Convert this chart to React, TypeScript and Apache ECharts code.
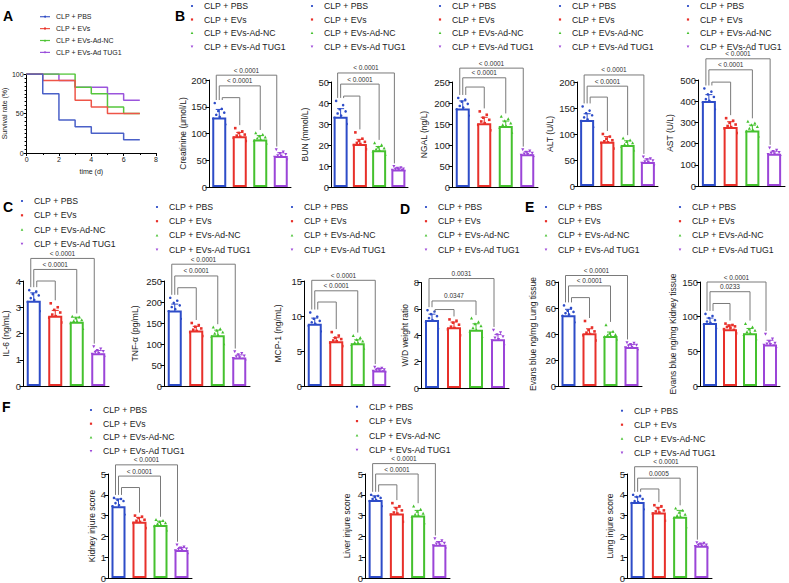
import React, { useEffect, useRef } from "react";
import * as echarts from "echarts";

const FONT = "'Liberation Sans', Arial, Helvetica, sans-serif";
const GROUPS = ["CLP + PBS", "CLP + EVs", "CLP + EVs-Ad-NC", "CLP + EVs-Ad TUG1"];
const COLORS = ["#2d4cc8", "#e8302a", "#45c12e", "#9b45d8"];
const LINE_COLORS = ["#4a60c8", "#ee5548", "#56c63c", "#9b55dc"];

// ---- Panel A: survival (Kaplan-Meier steps) ----
const SURV_PBS = [[0, 100], [1, 75], [2, 41.7], [3, 33.3], [4, 25], [6, 16.7], [7, 16.7]];
const SURV_EVS = [[0, 100], [1, 91.7], [3, 66.7], [4, 58.3], [5, 50], [7, 50]];
const SURV_NC = [[0, 100], [3, 83.3], [4, 75], [5, 58.3], [6, 50], [7, 50]];
const SURV_TUG1 = [[0, 100], [2, 91.7], [3, 83.3], [5, 75], [6, 66.7], [7, 66.7]];
const SURV = [SURV_PBS, SURV_EVS, SURV_NC, SURV_TUG1];

// ---- Panel B ----
const CREAT_MEAN = [130, 95, 89, 58];
const CREAT_SD = [15, 7, 7, 6];
const CREAT_DOTS = [
  [157, 146, 142, 139, 135, 131, 128, 124, 121, 117, 113, 110],
  [110, 104, 101, 98, 96, 94, 92, 90, 88, 86, 84],
  [101, 98, 95, 93, 91, 89, 87, 86, 84, 82, 80],
  [70, 66, 63, 61, 59, 58, 56, 55, 53, 51, 49],
];
const CREAT_SIG = [209, 189, 167];
const CREAT_P = ["< 0.0001", "< 0.0001", ""];

const BUN_MEAN = [33.5, 20.5, 17.5, 8.3];
const BUN_SD = [3.8, 2.2, 1.8, 0.8];
const BUN_DOTS = [
  [41, 39, 37, 36, 35, 34, 33, 32, 31, 30, 29.5, 28.5],
  [26, 23, 22, 21.5, 21, 20.5, 20, 19.5, 19, 18, 17.5],
  [21, 20, 19, 18.5, 18, 17.5, 17, 16.5, 16, 15.5, 15],
  [9.8, 9.3, 9, 8.7, 8.5, 8.3, 8.1, 7.9, 7.6, 7.3, 7],
];
const BUN_SIG = [54.3, 49, 43.3];
const BUN_P = ["< 0.0001", "< 0.0001", ""];

const NGAL_MEAN = [187, 152, 145, 78];
const NGAL_SD = [18, 14, 12, 6];
const NGAL_DOTS = [
  [212, 208, 203, 198, 193, 189, 185, 180, 176, 170, 162, 150],
  [180, 172, 165, 160, 156, 152, 148, 145, 140, 135, 130, 124],
  [168, 162, 157, 152, 148, 145, 142, 138, 135, 130, 124],
  [89, 86, 83, 81, 79, 78, 76, 75, 73, 71, 68],
];
const NGAL_SIG = [283, 260, 238];
const NGAL_P = ["< 0.0001", "< 0.0001", ""];

const ALT_MEAN = [127, 85, 79, 46];
const ALT_SD = [12, 10, 8, 6];
const ALT_DOTS = [
  [153, 145, 140, 136, 132, 128, 125, 121, 117, 113, 109, 105],
  [100, 95, 91, 88, 86, 84, 83, 81, 78, 72, 66],
  [92, 88, 85, 83, 80, 78, 76, 74, 72, 69, 65],
  [56, 53, 51, 49, 47, 46, 44, 43, 41, 39, 36],
];
const ALT_SIG = [213.5, 192, 171];
const ALT_P = ["< 0.0001", "< 0.0001", ""];

const AST_MEAN = [401, 278, 262, 152];
const AST_SD = [30, 25, 25, 12];
const AST_DOTS = [
  [460, 445, 432, 420, 410, 402, 395, 386, 375, 362, 348, 335],
  [320, 308, 298, 290, 283, 278, 272, 265, 258, 250, 240],
  [305, 296, 288, 280, 272, 265, 258, 250, 242, 235, 226],
  [180, 170, 164, 159, 155, 152, 149, 146, 143, 140, 136],
];
const AST_SIG = [600, 548, 490];
const AST_P = ["< 0.0001", "< 0.0001", ""];

// ---- Panel C ----
const IL6_MEAN = [3.25, 2.68, 2.45, 1.25];
const IL6_SD = [0.3, 0.2, 0.17, 0.1];
const IL6_DOTS = [
  [3.65, 3.6, 3.5, 3.45, 3.35, 3.28, 3.2, 3.1, 3.0, 2.85, 2.7, 2.4],
  [3.15, 3.0, 2.9, 2.8, 2.72, 2.66, 2.6, 2.55, 2.5, 2.42, 2.3],
  [2.65, 2.62, 2.58, 2.52, 2.48, 2.45, 2.4, 2.35, 2.25, 2.18, 2.1],
  [1.5, 1.42, 1.36, 1.32, 1.28, 1.25, 1.22, 1.18, 1.14, 1.1, 1.05],
];
const IL6_SIG = [4.86, 4.44, 4.0];
const IL6_P = ["< 0.0001", "< 0.0001", ""];

const TNF_MEAN = [180, 132, 121, 68];
const TNF_SD = [15, 10, 12, 6];
const TNF_DOTS = [
  [210, 203, 198, 192, 188, 183, 178, 172, 166, 160, 155, 150],
  [150, 145, 141, 137, 134, 131, 128, 125, 122, 119, 115],
  [140, 136, 132, 128, 125, 121, 118, 114, 108, 100, 90],
  [82, 78, 75, 72, 70, 68, 66, 64, 62, 60, 58],
];
const TNF_SIG = [290, 262, 234];
const TNF_P = ["< 0.0001", "< 0.0001", ""];

const MCP_MEAN = [8.9, 6.4, 6.1, 2.2];
const MCP_SD = [0.8, 0.5, 0.5, 0.3];
const MCP_DOTS = [
  [10.5, 9.9, 9.6, 9.3, 9.1, 8.9, 8.6, 8.4, 8.1, 7.8, 7.5, 7.2],
  [7.7, 7.2, 6.9, 6.7, 6.5, 6.4, 6.2, 6.1, 5.9, 5.7, 5.5],
  [7.2, 6.9, 6.6, 6.4, 6.2, 6.1, 5.9, 5.7, 5.5, 5.35, 5.2],
  [2.7, 2.55, 2.45, 2.35, 2.28, 2.2, 2.12, 2.05, 1.98, 1.9, 1.8],
];
const MCP_SIG = [15.1, 13.6, 12.0];
const MCP_P = ["< 0.0001", "< 0.0001", ""];

// ---- Panel D ----
const WD_MEAN = [5.15, 4.6, 4.42, 3.7];
const WD_SD = [0.45, 0.4, 0.45, 0.35];
const WD_DOTS = [
  [5.9, 5.8, 5.6, 5.45, 5.3, 5.15, 5.0, 4.85, 4.7, 4.5, 4.35],
  [5.2, 5.1, 4.95, 4.8, 4.65, 4.55, 4.45, 4.3, 4.15, 4.0, 3.9],
  [5.3, 5.0, 4.85, 4.7, 4.55, 4.4, 4.3, 4.15, 4.0, 3.9, 3.8],
  [4.4, 4.2, 4.05, 3.9, 3.8, 3.7, 3.6, 3.5, 3.35, 3.2, 3.0],
];
const WD_SIG = [8.3, 6.6, 5.95];
const WD_P = ["0.0031", "0.0347", ""];

// ---- Panel E ----
const EBL_MEAN = [54.5, 40.5, 38.5, 30];
const EBL_SD = [4.5, 3.5, 3, 2];
const EBL_DOTS = [
  [62, 60, 58, 57, 56, 55, 54, 52, 51, 49, 47],
  [50, 45, 43, 42, 41, 40, 39, 38, 37, 35, 34],
  [47, 42, 40.5, 39.5, 39, 38.5, 38, 37, 36.5, 36, 35],
  [33.5, 33, 32, 31.5, 31, 30, 29.5, 29, 28.5, 27.5, 27],
];
const EBL_SIG = [85, 77, 68];
const EBL_P = ["< 0.0001", "< 0.0001", ""];

const EBK_MEAN = [91, 82, 76, 60];
const EBK_SD = [7, 6, 7, 6];
const EBK_DOTS = [
  [104, 101, 98, 95, 93, 91, 89, 87, 85, 83, 80],
  [90, 88, 87, 86, 85, 84, 82, 81, 79, 76, 62],
  [90, 85, 82, 80, 78, 76, 74, 72, 70, 68, 65],
  [75, 68, 64, 62, 61, 60, 59, 58, 56, 54, 52],
];
const EBK_SIG = [150, 136, 119];
const EBK_P = ["< 0.0001", "0.0233", ""];

// ---- Panel F ----
const KIS_MEAN = [3.45, 2.7, 2.55, 1.35];
const KIS_SD = [0.35, 0.2, 0.18, 0.12];
const KIS_DOTS = [
  [3.85, 3.8, 3.75, 3.7, 3.6, 3.5, 3.45, 3.35, 3.2, 3.05, 2.55],
  [3.0, 2.95, 2.88, 2.8, 2.75, 2.7, 2.65, 2.6, 2.5, 2.4, 2.3],
  [2.8, 2.75, 2.7, 2.65, 2.6, 2.55, 2.5, 2.45, 2.38, 2.3, 2.2],
  [1.6, 1.5, 1.45, 1.4, 1.38, 1.35, 1.32, 1.28, 1.22, 1.15, 1.1],
];
const KIS_SIG = [5.44, 4.9, 4.35];
const KIS_P = ["< 0.0001", "< 0.0001", ""];

const LIS_MEAN = [3.75, 3.1, 3.0, 1.6];
const LIS_SD = [0.2, 0.3, 0.25, 0.15];
const LIS_DOTS = [
  [4.0, 3.95, 3.9, 3.85, 3.8, 3.75, 3.7, 3.65, 3.55, 3.45, 3.35],
  [3.6, 3.45, 3.35, 3.25, 3.15, 3.1, 3.05, 2.95, 2.85, 2.7, 2.3],
  [3.45, 3.3, 3.2, 3.1, 3.05, 3.0, 2.95, 2.9, 2.8, 2.65, 2.4],
  [1.9, 1.8, 1.72, 1.68, 1.64, 1.6, 1.56, 1.52, 1.48, 1.4, 1.3],
];
const LIS_SIG = [5.5, 5.0, 4.48];
const LIS_P = ["< 0.0001", "< 0.0001", ""];

const LUS_MEAN = [3.65, 3.15, 2.95, 1.55];
const LUS_SD = [0.25, 0.25, 0.3, 0.1];
const LUS_DOTS = [
  [4.0, 3.95, 3.9, 3.8, 3.7, 3.65, 3.6, 3.5, 3.4, 3.3, 3.2],
  [3.5, 3.45, 3.35, 3.25, 3.2, 3.15, 3.1, 3.0, 2.9, 2.75, 2.45],
  [3.35, 3.25, 3.15, 3.05, 3.0, 2.95, 2.9, 2.8, 2.65, 2.45, 2.2],
  [1.7, 1.68, 1.65, 1.6, 1.57, 1.55, 1.52, 1.5, 1.45, 1.4, 1.35],
];
const LUS_SIG = [5.35, 4.8, 4.28];
const LUS_P = ["< 0.0001", "0.0005", ""];

// ---- layout (positions only) ----
const PANELS = [
  { name: "Creatinine (μmol/L)", max: 200, step: 50, mean: CREAT_MEAN, sd: CREAT_SD, dots: CREAT_DOTS, sig: CREAT_SIG, p: CREAT_P, box: [209, 80, 82, 107], gap: 20.5, leg: [192, 6, 13.5] },
  { name: "BUN (mmol/L)", max: 50, step: 10, mean: BUN_MEAN, sd: BUN_SD, dots: BUN_DOTS, sig: BUN_SIG, p: BUN_P, box: [331, 82, 77, 105], gap: 21.5, leg: [312, 6, 13.5] },
  { name: "NGAL (ng/L)", max: 250, step: 50, mean: NGAL_MEAN, sd: NGAL_SD, dots: NGAL_DOTS, sig: NGAL_SIG, p: NGAL_P, box: [452, 82, 86, 105], gap: 24, leg: [440, 6, 13.5] },
  { name: "ALT (U/L)", max: 200, step: 50, mean: ALT_MEAN, sd: ALT_SD, dots: ALT_DOTS, sig: ALT_SIG, p: ALT_P, box: [577, 82, 81, 104], gap: 22.5, leg: [560, 6, 13.5] },
  { name: "AST (U/L)", max: 500, step: 100, mean: AST_MEAN, sd: AST_SD, dots: AST_DOTS, sig: AST_SIG, p: AST_P, box: [698, 80, 87, 106], gap: 23.5, leg: [688, 6, 13.5] },
  { name: "IL-6 (ng/mL)", max: 4, step: 1, mean: IL6_MEAN, sd: IL6_SD, dots: IL6_DOTS, sig: IL6_SIG, p: IL6_P, box: [23, 281, 86, 105], gap: 12.5, leg: [22, 201, 14.3] },
  { name: "TNF-α (pg/mL)", max: 250, step: 50, mean: TNF_MEAN, sd: TNF_SD, dots: TNF_DOTS, sig: TNF_SIG, p: TNF_P, box: [164, 281, 86, 105], gap: 24.5, leg: [157, 207, 14.2] },
  { name: "MCP-1 (ng/mL)", max: 15, step: 5, mean: MCP_MEAN, sd: MCP_SD, dots: MCP_DOTS, sig: MCP_SIG, p: MCP_P, box: [304, 281, 86, 105], gap: 21.5, leg: [292, 207, 14.2] },
  { name: "W/D weight ratio", max: 8, step: 2, mean: WD_MEAN, sd: WD_SD, dots: WD_DOTS, sig: WD_SIG, p: WD_P, box: [421, 282.5, 88, 105.5], gap: 11.5, leg: [426, 207, 14.2] },
  { name: "Evans blue ng/mg Lung tissue", max: 80, step: 20, mean: EBL_MEAN, sd: EBL_SD, dots: EBL_DOTS, sig: EBL_SIG, p: EBL_P, box: [558, 282, 84, 104], gap: 20.5, leg: [546, 207, 14.2] },
  { name: "Evans blue ng/mg Kidney tissue", max: 150, step: 50, mean: EBK_MEAN, sd: EBK_SD, dots: EBK_DOTS, sig: EBK_SIG, p: EBK_P, box: [700, 282, 80, 104], gap: 22.5, leg: [680, 207, 14.2] },
  { name: "Kidney injure score", max: 5, step: 1, mean: KIS_MEAN, sd: KIS_SD, dots: KIS_DOTS, sig: KIS_SIG, p: KIS_P, box: [108, 474, 84, 104], gap: 11.5, leg: [91, 410, 13.7] },
  { name: "Liver injure score", max: 5, step: 1, mean: LIS_MEAN, sd: LIS_SD, dots: LIS_DOTS, sig: LIS_SIG, p: LIS_P, box: [365, 474, 85, 104], gap: 13.5, leg: [357, 406.7, 14.4] },
  { name: "Lung injure score", max: 5, step: 1, mean: LUS_MEAN, sd: LUS_SD, dots: LUS_DOTS, sig: LUS_SIG, p: LUS_P, box: [627, 474, 85, 104], gap: 12.5, leg: [622, 410.7, 14] },
];

const LETTERS = [
  ["A", 3, 16], ["B", 175, 16], ["C", 3, 207], ["D", 400, 209], ["E", 525, 207], ["F", 2, 407],
];

const JITTER = [-4.5, 2.5, -1, 5, -3, 0.5, -6, 4, -2, 6, 1, -5];
const LEFT_LEG = [-3, 0, 3];
const RIGHT_LEG = [-4, 0, 0];

function marker(i: number, x: number, y: number, s: number) {
  const fill = COLORS[i];
  if (i === 0) return { type: "circle", shape: { cx: x, cy: y, r: s }, style: { fill } };
  if (i === 1) return { type: "rect", shape: { x: x - s, y: y - s, width: 2 * s, height: 2 * s }, style: { fill } };
  if (i === 2)
    return { type: "polygon", shape: { points: [[x, y - s * 1.3], [x - s * 1.2, y + s], [x + s * 1.2, y + s]] }, style: { fill } };
  return { type: "polygon", shape: { points: [[x, y + s * 1.3], [x - s * 1.2, y - s], [x + s * 1.2, y - s]] }, style: { fill } };
}

function buildOption() {
  const grid: any[] = [];
  const xAxis: any[] = [];
  const yAxis: any[] = [];
  const series: any[] = [];
  const elements: any[] = [];
  const txt = { color: "#222", fontFamily: FONT };

  // Panel A
  grid.push({ left: 25, top: 74, width: 131, height: 79 });
  xAxis.push({
    type: "value", gridIndex: 0, min: 0, max: 8, interval: 2,
    axisLine: { lineStyle: { color: "#000", width: 1 } },
    axisTick: { length: 3, lineStyle: { color: "#000" } },
    minorTick: { show: true, splitNumber: 2, length: 2, lineStyle: { color: "#000" } },
    axisLabel: { fontSize: 7, margin: 3, ...txt },
    splitLine: { show: false },
    name: "time (d)", nameLocation: "middle", nameGap: 15, nameTextStyle: { fontSize: 7, ...txt },
  });
  yAxis.push({
    type: "value", gridIndex: 0, min: 0, max: 100, interval: 50,
    axisLine: { show: true, lineStyle: { color: "#000", width: 1 } },
    axisTick: { show: true, length: 3, lineStyle: { color: "#000" } },
    minorTick: { show: true, splitNumber: 10, length: 2, lineStyle: { color: "#000" } },
    axisLabel: { fontSize: 7, margin: 3, ...txt },
    splitLine: { show: false },
    name: "Survival rate (%)", nameLocation: "middle", nameGap: 15.5, nameTextStyle: { fontSize: 7, ...txt },
  });
  SURV.forEach((d, i) => {
    series.push({
      type: "line", name: GROUPS[i], xAxisIndex: 0, yAxisIndex: 0, step: "end", data: d,
      symbol: "none", lineStyle: { color: LINE_COLORS[i], width: 1.5 }, itemStyle: { color: LINE_COLORS[i] },
      silent: true, z: 10 - i,
    });
  });
  GROUPS.forEach((g, i) => {
    const y = 16.7 + i * 11.9;
    elements.push({ type: "line", shape: { x1: 40, y1: y, x2: 50, y2: y }, style: { stroke: LINE_COLORS[i], lineWidth: 1.2 } });
    elements.push(marker(i, 45, y, 1));
    elements.push({
      type: "text", x: 56, y,
      style: { text: g, fontSize: 7, fill: "#222", fontFamily: FONT, verticalAlign: "middle", textVerticalAlign: "middle" },
    });
  });

  PANELS.forEach((p, k) => {
    const gi = k + 1;
    const [left, top, width, height] = p.box;
    grid.push({ left, top, width, height });
    xAxis.push({
      type: "category", gridIndex: gi, data: GROUPS,
      axisLine: { lineStyle: { color: "#000", width: 1 } },
      axisTick: { show: false }, axisLabel: { show: false },
    });
    yAxis.push({
      type: "value", gridIndex: gi, min: 0, max: p.max, interval: p.step,
      axisLine: { show: true, lineStyle: { color: "#000", width: 1 } },
      axisTick: { show: true, length: 3.5, lineStyle: { color: "#000" } },
      axisLabel: { fontSize: 9.5, margin: 2, ...txt },
      splitLine: { show: false },
      name: p.name, nameLocation: "middle", nameGap: p.gap, nameTextStyle: { fontSize: 8.5, ...txt },
    });
    series.push({
      type: "bar", xAxisIndex: gi, yAxisIndex: gi, barWidth: 14, silent: true,
      data: p.mean.map((m, i) => ({ value: m, itemStyle: { color: "#fff", borderColor: COLORS[i], borderWidth: 2 } })),
    });
    const dotData: number[][] = [];
    p.dots.forEach((arr, i) => arr.forEach((v, j) => dotData.push([i, v, j])));
    series.push({
      type: "custom", xAxisIndex: gi, yAxisIndex: gi, silent: true, data: dotData,
      renderItem: (_params: any, api: any) => {
        const cat = api.value(0);
        const pt = api.coord([cat, api.value(1)]);
        const j = api.value(2);
        return marker(cat, pt[0] + JITTER[j % JITTER.length], pt[1], 1.3);
      },
    });
    series.push({
      type: "custom", xAxisIndex: gi, yAxisIndex: gi, silent: true,
      data: p.mean.map((m, i) => [i, m, p.sd[i]]),
      renderItem: (_params: any, api: any) => {
        const i = api.value(0), m = api.value(1), s = api.value(2);
        const t = api.coord([i, m + s]);
        const b = api.coord([i, m - s]);
        const c = COLORS[i];
        const w = 3.5;
        const st = { stroke: c, lineWidth: 1 };
        return {
          type: "group",
          children: [
            { type: "line", shape: { x1: t[0], y1: t[1], x2: b[0], y2: b[1] }, style: st },
            { type: "line", shape: { x1: t[0] - w, y1: t[1], x2: t[0] + w, y2: t[1] }, style: st },
            { type: "line", shape: { x1: b[0] - w, y1: b[1], x2: b[0] + w, y2: b[1] }, style: st },
          ],
        };
      },
    });
    const maxes = p.dots.map((a) => Math.max(...a));
    series.push({
      type: "custom", xAxisIndex: gi, yAxisIndex: gi, silent: true, clip: false,
      data: p.sig.map((lvl, b) => [0, lvl, 3 - b]),
      renderItem: (params: any, api: any) => {
        const b = params.dataIndex;
        const lvl = api.value(1);
        const to = api.value(2);
        const a = api.coord([0, lvl]);
        const z = api.coord([to, lvl]);
        const y = a[1];
        const lx = a[0] + LEFT_LEG[b];
        const rx = z[0] + RIGHT_LEG[b];
        const lb = Math.max(y + 2, api.coord([0, maxes[0]])[1] - 3);
        const rb = Math.max(y + 2, api.coord([to, maxes[to]])[1] - 3);
        const children: any[] = [
          {
            type: "polyline",
            shape: { points: [[lx, lb], [lx, y], [rx, y], [rx, rb]] },
            style: { stroke: "#7a7a7a", lineWidth: 1, fill: "none" },
          },
        ];
        if (p.p[b]) {
          children.push({
            type: "text",
            style: {
              text: p.p[b], x: (lx + rx) / 2, y: y - 1.5, fontSize: 6.5, fill: "#333", fontFamily: FONT,
              align: "center", verticalAlign: "bottom", textAlign: "center", textVerticalAlign: "bottom",
            },
          });
        }
        return { type: "group", children };
      },
    });
    // legend
    const [mx, y0, dy] = p.leg;
    GROUPS.forEach((g, i) => {
      const y = y0 + i * dy;
      elements.push(marker(i, mx, y, 1.1));
      elements.push({
        type: "text", x: mx + 12, y,
        style: { text: g, fontSize: 8.7, fill: "#222", fontFamily: FONT, verticalAlign: "middle", textVerticalAlign: "middle" },
      });
    });
  });

  LETTERS.forEach(([t, x, y]) => {
    elements.push({
      type: "text", x, y,
      style: { text: t, fontSize: 14, fontWeight: "bold", fill: "#000", fontFamily: FONT, verticalAlign: "middle", textVerticalAlign: "middle" },
    });
  });

  return {
    animation: false,
    backgroundColor: "#fff",
    textStyle: { fontFamily: FONT },
    grid, xAxis, yAxis, series,
    graphic: { elements },
  };
}

export default function App() {
  const ref = useRef<HTMLDivElement>(null);
  useEffect(() => {
    if (!ref.current) return;
    const chart = echarts.init(ref.current, null, { renderer: "svg" });
    chart.setOption(buildOption() as any);
    return () => chart.dispose();
  }, []);
  return <div ref={ref} style={{ position: "absolute", left: 0, top: 0, width: 789, height: 583 }} />;
}
